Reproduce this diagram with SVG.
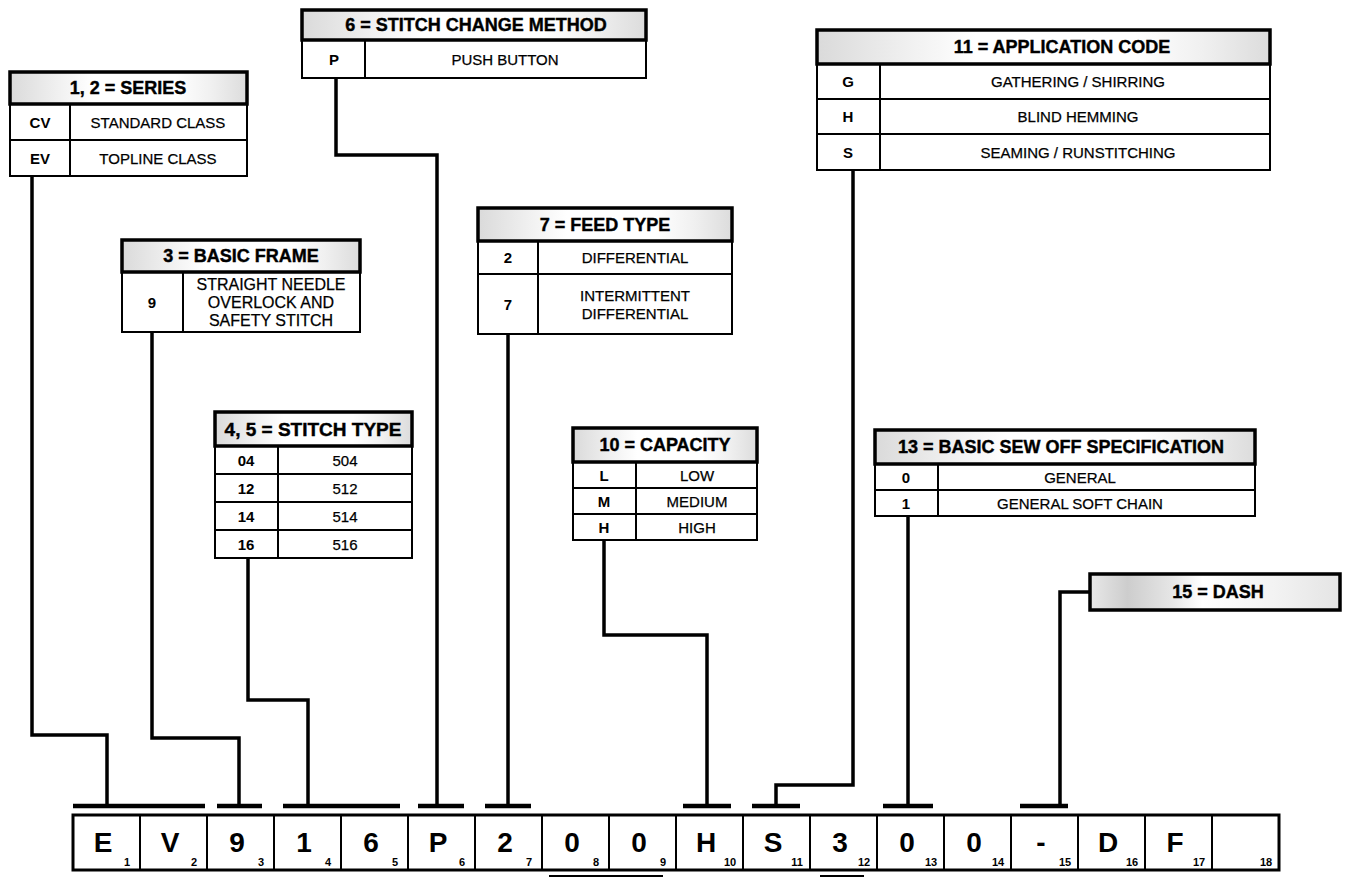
<svg xmlns="http://www.w3.org/2000/svg" width="1346" height="879" viewBox="0 0 1346 879">
<defs>
<linearGradient id="shade" x1="0" y1="0" x2="1" y2="0">
<stop offset="0" stop-color="#dadada"/>
<stop offset="0.2" stop-color="#f0f0f0"/>
<stop offset="0.35" stop-color="#ffffff"/>
<stop offset="0.7" stop-color="#ffffff"/>
<stop offset="0.85" stop-color="#f0f0f0"/>
<stop offset="1" stop-color="#dcdcdc"/>
</linearGradient>
<linearGradient id="shadeDash" x1="0" y1="0" x2="1" y2="0">
<stop offset="0" stop-color="#e8e8e8"/>
<stop offset="0.15" stop-color="#cdcdcd"/>
<stop offset="0.33" stop-color="#e6e6e6"/>
<stop offset="0.45" stop-color="#ffffff"/>
<stop offset="0.75" stop-color="#f2f2f2"/>
<stop offset="1" stop-color="#e4e4e4"/>
</linearGradient>
</defs>
<style>
text{font-family:"Liberation Sans",Arial,sans-serif;fill:#000;text-anchor:middle;dominant-baseline:central}
.hdr{fill:url(#shade);stroke:#000;stroke-width:3.5}
.cell{fill:#fff;stroke:#000;stroke-width:2}
.div{stroke:#000;stroke-width:2;fill:none}
.ht{font-weight:bold;font-size:18px;stroke:#000;stroke-width:0.4}
.k{font-weight:bold;font-size:15px}
.d{font-size:15px;stroke:#000;stroke-width:0.25}
.conn{stroke:#000;stroke-width:3.5;fill:none;stroke-linejoin:miter;stroke-linecap:butt}
.bar{stroke:#000;stroke-width:4.5;fill:none}
.big{font-weight:bold;font-size:28px}
.sub{font-weight:bold;font-size:11px}
.mark{stroke:#000;stroke-width:2;fill:none}
</style>
<rect width="1346" height="879" fill="#fff"/>

<g id="connectors">
<path class="conn" d="M32 176 V735 H107 V806"/>
<path class="bar" d="M73 806 H205"/>
<path class="conn" d="M152 332 V738 H239 V806"/>
<path class="bar" d="M217 806 H262"/>
<path class="conn" d="M248 558 V700 H308 V806"/>
<path class="bar" d="M283 806 H400"/>
<path class="conn" d="M336 78 V155 H437 V806"/>
<path class="bar" d="M418 806 H464"/>
<path class="conn" d="M508 334 V806"/>
<path class="bar" d="M485 806 H531"/>
<path class="conn" d="M604 540 V635 H707 V806"/>
<path class="bar" d="M683 806 H731"/>
<path class="conn" d="M853 170 V785 H776 V806"/>
<path class="bar" d="M752 806 H800"/>
<path class="conn" d="M908 516 V806"/>
<path class="bar" d="M883 806 H933"/>
<path class="conn" d="M1090 592 H1060 V806"/>
<path class="bar" d="M1020 806 H1068"/>
</g>

<g id="series">
<rect class="cell" x="10" y="104" width="237" height="72"/>
<path class="div" d="M10 140 H247 M70 104 V176"/>
<rect class="hdr" x="10" y="72" width="237" height="32"/>
<text class="ht" x="128" y="88">1, 2 = SERIES</text>
<text class="k" x="40" y="122">CV</text>
<text class="d" x="158" y="122">STANDARD CLASS</text>
<text class="k" x="40" y="158">EV</text>
<text class="d" x="158" y="158">TOPLINE CLASS</text>
</g>

<g id="stitch-change">
<rect class="cell" x="302" y="40" width="344" height="38"/>
<path class="div" d="M365 40 V78"/>
<rect class="hdr" x="302" y="10" width="344" height="30"/>
<text class="ht" x="476" y="25">6 = STITCH CHANGE METHOD</text>
<text class="k" x="334" y="59">P</text>
<text class="d" x="505" y="59">PUSH BUTTON</text>
</g>

<g id="application">
<rect class="cell" x="817" y="64" width="453" height="106"/>
<path class="div" d="M817 99 H1270 M817 134 H1270 M880 64 V170"/>
<rect class="hdr" x="817" y="30" width="453" height="34"/>
<text class="ht" x="1062" y="47">11 = APPLICATION CODE</text>
<text class="k" x="848" y="81.5">G</text>
<text class="d" x="1078" y="81.5">GATHERING / SHIRRING</text>
<text class="k" x="848" y="116.5">H</text>
<text class="d" x="1078" y="116.5">BLIND HEMMING</text>
<text class="k" x="848" y="152">S</text>
<text class="d" x="1078" y="152">SEAMING / RUNSTITCHING</text>
</g>

<g id="basic-frame">
<rect class="cell" x="122" y="272" width="238" height="60"/>
<path class="div" d="M183 272 V332"/>
<rect class="hdr" x="122" y="240" width="238" height="32"/>
<text class="ht" x="241" y="256">3 = BASIC FRAME</text>
<text class="k" x="152" y="302">9</text>
<text class="d" x="271" y="284" style="font-size:16px">STRAIGHT NEEDLE</text>
<text class="d" x="271" y="302" style="font-size:16px">OVERLOCK AND</text>
<text class="d" x="271" y="320" style="font-size:16px">SAFETY STITCH</text>
</g>

<g id="feed-type">
<rect class="cell" x="478" y="241" width="254" height="93"/>
<path class="div" d="M478 274 H732 M538 241 V334"/>
<rect class="hdr" x="478" y="208" width="254" height="33"/>
<text class="ht" x="605" y="225">7 = FEED TYPE</text>
<text class="k" x="508" y="257.5">2</text>
<text class="d" x="635" y="257.5">DIFFERENTIAL</text>
<text class="k" x="508" y="304">7</text>
<text class="d" x="635" y="295">INTERMITTENT</text>
<text class="d" x="635" y="313">DIFFERENTIAL</text>
</g>

<g id="stitch-type">
<rect class="cell" x="215" y="446" width="197" height="112"/>
<path class="div" d="M215 474 H412 M215 502 H412 M215 530 H412 M278 446 V558"/>
<rect class="hdr" x="215" y="412" width="197" height="34"/>
<text class="ht" x="313" y="429" style="font-size:19px">4, 5 = STITCH TYPE</text>
<text class="k" x="246" y="460">04</text>
<text class="d" x="345" y="460">504</text>
<text class="k" x="246" y="488">12</text>
<text class="d" x="345" y="488">512</text>
<text class="k" x="246" y="516">14</text>
<text class="d" x="345" y="516">514</text>
<text class="k" x="246" y="544">16</text>
<text class="d" x="345" y="544">516</text>
</g>

<g id="capacity">
<rect class="cell" x="573" y="462" width="184" height="78"/>
<path class="div" d="M573 488 H757 M573 514 H757 M636 462 V540"/>
<rect class="hdr" x="573" y="428" width="184" height="34"/>
<text class="ht" x="665" y="445">10 = CAPACITY</text>
<text class="k" x="604" y="475">L</text>
<text class="d" x="697" y="475">LOW</text>
<text class="k" x="604" y="501">M</text>
<text class="d" x="697" y="501">MEDIUM</text>
<text class="k" x="604" y="527">H</text>
<text class="d" x="697" y="527">HIGH</text>
</g>

<g id="sew-off">
<rect class="cell" x="875" y="464" width="380" height="52"/>
<path class="div" d="M875 490 H1255 M938 464 V516"/>
<rect class="hdr" x="875" y="430" width="380" height="34"/>
<text class="ht" x="1061" y="447">13 = BASIC SEW OFF SPECIFICATION</text>
<text class="k" x="906" y="477">0</text>
<text class="d" x="1080" y="477">GENERAL</text>
<text class="k" x="906" y="503">1</text>
<text class="d" x="1080" y="503">GENERAL SOFT CHAIN</text>
</g>

<g id="dash">
<rect x="1090" y="574" width="250" height="36" fill="url(#shadeDash)" stroke="#000" stroke-width="3.5"/>
<text class="ht" x="1218" y="592">15 = DASH</text>
</g>

<g id="code-row">
<rect x="73" y="815" width="1206" height="55" fill="#fff" stroke="#000" stroke-width="3"/>
<path class="div" d="M140 815 V870 M207 815 V870 M274 815 V870 M341 815 V870 M408 815 V870 M475 815 V870 M542 815 V870 M609 815 V870 M676 815 V870 M743 815 V870 M810 815 V870 M877 815 V870 M944 815 V870 M1011 815 V870 M1078 815 V870 M1145 815 V870 M1212 815 V870"/>
<text class="big" x="103" y="842">E</text><text class="sub" x="127" y="862">1</text>
<text class="big" x="170" y="842">V</text><text class="sub" x="194" y="862">2</text>
<text class="big" x="237" y="842">9</text><text class="sub" x="261" y="862">3</text>
<text class="big" x="304" y="842">1</text><text class="sub" x="328" y="862">4</text>
<text class="big" x="371" y="842">6</text><text class="sub" x="395" y="862">5</text>
<text class="big" x="438" y="842">P</text><text class="sub" x="462" y="862">6</text>
<text class="big" x="505" y="842">2</text><text class="sub" x="529" y="862">7</text>
<text class="big" x="572" y="842">0</text><text class="sub" x="596" y="862">8</text>
<text class="big" x="639" y="842">0</text><text class="sub" x="663" y="862">9</text>
<text class="big" x="706" y="842">H</text><text class="sub" x="730" y="862">10</text>
<text class="big" x="773" y="842">S</text><text class="sub" x="797" y="862">11</text>
<text class="big" x="840" y="842">3</text><text class="sub" x="864" y="862">12</text>
<text class="big" x="907" y="842">0</text><text class="sub" x="931" y="862">13</text>
<text class="big" x="974" y="842">0</text><text class="sub" x="998" y="862">14</text>
<text class="big" x="1041" y="842">-</text><text class="sub" x="1065" y="862">15</text>
<text class="big" x="1108" y="842">D</text><text class="sub" x="1132" y="862">16</text>
<text class="big" x="1175" y="842">F</text><text class="sub" x="1199" y="862">17</text>
<text class="sub" x="1266" y="862">18</text>
<path class="mark" d="M549 876 H663 M820 876 H864"/>
</g>
</svg>
